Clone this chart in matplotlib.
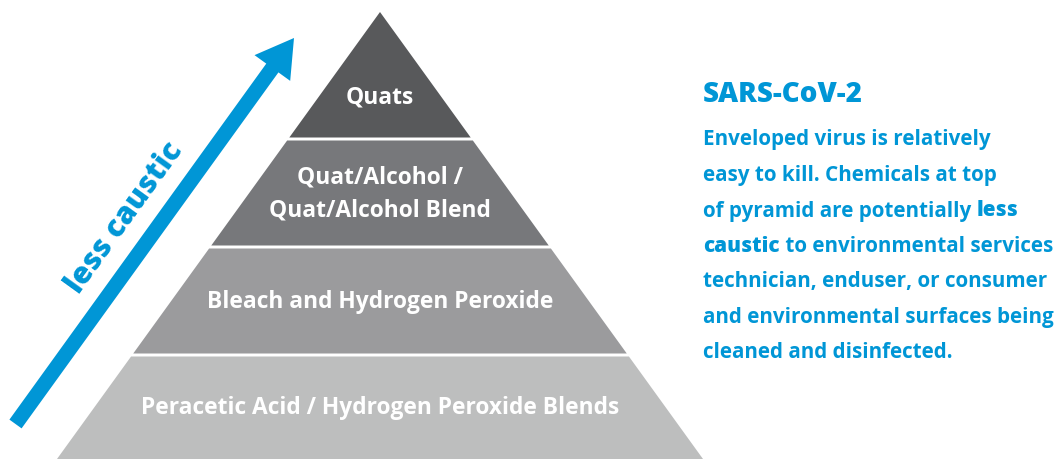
import matplotlib
matplotlib.use("Agg")
import matplotlib.pyplot as plt
from matplotlib.patches import Polygon, FancyArrow

# pyramid tiers, top to bottom
tier_labels = ["Quats", "Quat/Alcohol /\nQuat/Alcohol Blend",
               "Bleach and Hydrogen Peroxide",
               "Peracetic Acid / Hydrogen Peroxide Blends"]
tier_colors = ["#58595b", "#77787b", "#9b9b9d", "#bdbebe"]
tier_edges = [12, 139, 247, 355, 459]  # pixel rows of tier boundaries

arrow_label = "less caustic"
title = "SARS-CoV-2"
body_lines = [
    [("Enveloped virus is relatively", "bold")],
    [("easy to kill. Chemicals at top", "bold")],
    [("of pyramid are potentially ", "bold"), ("less", "heavy")],
    [("caustic", "heavy"), (" to environmental services", "bold")],
    [("technician, enduser, or consumer", "bold")],
    [("and environmental surfaces being", "bold")],
    [("cleaned and disinfected.", "bold")],
]

blue = "#0096d6"
W, H = 1056, 459
plt.rcParams["font.family"] = ["Open Sans", "DejaVu Sans"]

fig = plt.figure(figsize=(W / 100, H / 100), dpi=100)
ax = fig.add_axes([0, 0, 1, 1])
ax.set_xlim(0, W)
ax.set_ylim(H, 0)
ax.axis("off")

# pyramid
apex_x, apex_y, base_y = 380, tier_edges[0], tier_edges[-1]
half_base = 323
slope = half_base / (base_y - apex_y)
gap = 1.5
for i, (lab, col) in enumerate(zip(tier_labels, tier_colors)):
    y0 = tier_edges[i] + (gap if i > 0 else 0)
    y1 = tier_edges[i + 1] - (gap if i < len(tier_labels) - 1 else 0)
    w0 = (y0 - apex_y) * slope
    w1 = (y1 - apex_y) * slope
    pts = [(apex_x - w0, y0), (apex_x + w0, y0), (apex_x + w1, y1), (apex_x - w1, y1)]
    ax.add_patch(Polygon(pts, closed=True, facecolor=col, edgecolor="none"))
    yc = (tier_edges[i] + tier_edges[i + 1]) / 2 + (22 if i == 0 else 1)
    ax.text(apex_x, yc, lab, ha="center", va="center", color="white",
            fontsize=16.4, fontweight="bold", linespacing=1.45)

# arrow
tail = (15.5, 424)
tip = (294, 38)
ax.add_patch(FancyArrow(tail[0], tail[1], tip[0] - tail[0], tip[1] - tail[1],
                        width=15, head_width=44, head_length=37,
                        length_includes_head=True, color=blue, lw=0))
ax.text(125, 218, arrow_label, rotation=54.2, rotation_mode="anchor",
        ha="center", va="center", color=blue, fontsize=21.5, fontweight="heavy")

# right-hand text
ax.text(703, 94, title, ha="left", va="center", color=blue,
        fontsize=20, fontweight="heavy")
fig.canvas.draw()
r = fig.canvas.get_renderer()
y = 140
for parts in body_lines:
    x = 703
    for txt, wt in parts:
        t = ax.text(x, y, txt, ha="left", va="center", color=blue,
                    fontsize=14.85, fontweight=wt)
        bb = t.get_window_extent(renderer=r)
        x += bb.width
    y += 35.5

fig.savefig("out.png", dpi=100)
